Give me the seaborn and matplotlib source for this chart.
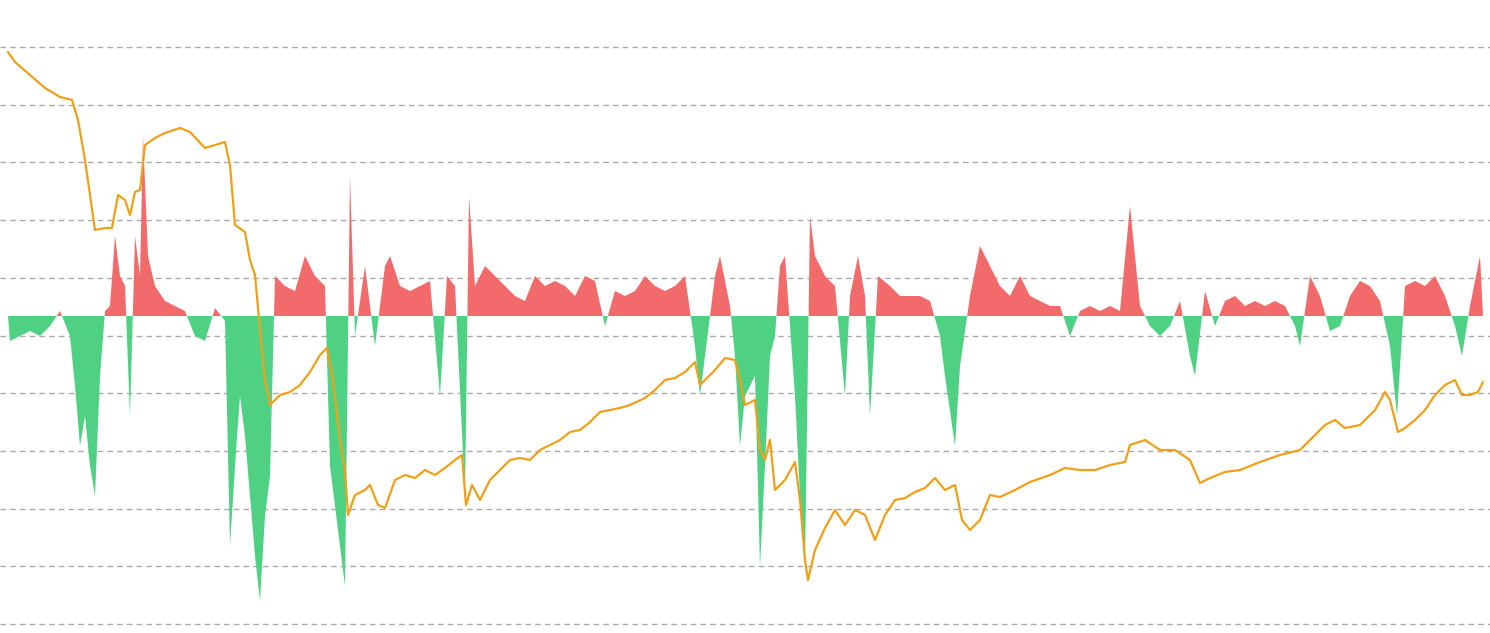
import matplotlib
matplotlib.use("Agg")
import matplotlib.pyplot as plt
import seaborn as sns
import numpy as np
import pandas as pd

# line series (position, level)
line_x = [8,15,30,45,60,72,78,85,90,95,105,112,118,125,130,135,140,145,155,165,180,190,205,215,225,230,235,245,250,255,260,265,270,280,290,300,310,320,327,333,340,345,348,355,365,370,378,385,395,405,415,425,435,445,455,462,466,472,480,490,500,510,520,530,540,550,560,570,580,590,600,610,620,630,645,655,665,675,685,695,700,705,715,725,735,740,745,755,760,765,770,775,785,795,800,805,808,815,825,835,845,855,865,875,885,895,905,915,925,935,945,955,962,970,980,990,1000,1015,1030,1050,1065,1080,1095,1110,1125,1130,1145,1160,1175,1190,1200,1210,1225,1240,1260,1280,1300,1310,1325,1335,1345,1360,1375,1385,1390,1398,1405,1415,1425,1435,1445,1455,1462,1470,1478,1483]
line_px = [52,62,75,88,97,100,120,160,195,230,228,228,195,200,215,192,190,145,138,133,128,132,148,145,142,165,225,232,260,275,330,380,405,395,392,385,372,355,348,380,440,470,515,495,490,485,505,508,480,475,478,470,475,468,460,455,505,485,500,480,470,460,458,460,450,445,440,432,430,422,412,410,408,405,398,390,380,378,372,362,385,380,370,358,360,380,405,400,450,460,440,490,480,462,500,560,580,550,528,510,525,510,515,540,515,500,498,492,488,478,490,485,520,530,520,495,497,490,482,475,468,470,470,465,462,445,440,450,450,460,483,478,472,470,462,455,450,440,425,420,428,425,410,392,400,432,428,420,410,395,385,380,395,395,392,382]

# bar series (position, signed magnitude)
bar_x = [10,20,30,40,50,60,70,75,80,85,90,95,100,105,110,115,120,125,130,135,140,143,148,155,165,175,185,195,205,215,225,230,235,240,245,250,255,260,265,270,275,285,295,305,315,325,330,340,345,350,355,365,375,385,390,400,410,420,430,440,447,455,465,469,475,485,495,505,515,525,535,545,555,565,575,585,595,605,615,625,635,645,655,665,675,685,695,700,715,720,730,735,740,745,755,760,765,770,775,780,785,795,800,805,810,815,825,835,845,850,858,865,870,878,890,900,910,920,930,940,945,955,960,970,980,990,1000,1010,1020,1030,1040,1050,1060,1070,1080,1090,1100,1110,1120,1130,1140,1150,1160,1170,1180,1190,1195,1205,1215,1225,1235,1245,1255,1265,1275,1285,1295,1300,1310,1320,1330,1340,1350,1360,1370,1380,1390,1397,1405,1415,1425,1435,1445,1455,1462,1470,1480]
bar_v = [-25,-20,-15,-20,-10,5,-20,-70,-130,-100,-150,-180,-60,5,10,80,40,30,-100,80,40,180,60,30,15,10,5,-20,-25,8,-5,-230,-150,-80,-120,-180,-240,-285,-200,-160,40,30,25,60,40,30,-150,-230,-270,140,-20,50,-30,50,60,30,25,30,35,-80,40,30,-180,120,30,50,40,30,20,15,40,30,35,30,20,40,35,-10,25,20,25,40,30,25,30,40,-30,-80,40,60,10,-40,-130,-80,-60,-250,-150,-40,-20,50,60,-80,-180,-250,100,60,40,30,-80,20,60,20,-100,40,30,20,20,20,15,-20,-60,-130,-50,20,70,50,30,20,40,20,15,10,10,-20,5,10,5,10,5,110,10,-10,-20,-10,15,-40,-60,25,-10,15,20,10,15,10,15,10,-10,-30,40,20,-15,-10,20,35,30,15,-30,-100,30,35,30,40,20,-10,-40,10,60]

H = 633
sns.set_style("white")
fig = plt.figure(figsize=(14.9, 6.33), dpi=100)
ax = fig.add_axes([0, 0, 1, 1])
ax.set_xlim(0, 1490)
ax.set_ylim(0, H)

for gy in [47,105,162,220,278,336,393,451,509,566,624]:
    ax.axhline(H - gy, color="#aaaaaa", ls=(0, (4, 3)), lw=1, zorder=0)

base = H - 316
bx = np.array(bar_x, float)
bv = np.array(bar_v, float)
xs = np.concatenate([[8], bx, [1483]])
vs = np.concatenate([[0], bv, [0]])
ax.fill_between(xs, base, base + vs, where=vs >= 0, interpolate=True, color="#f26b6b", lw=0, zorder=2)
ax.fill_between(xs, base, base + vs, where=vs <= 0, interpolate=True, color="#4fd183", lw=0, zorder=2)

df = pd.DataFrame({"x": line_x, "y": H - np.array(line_px)})
sns.lineplot(data=df, x="x", y="y", ax=ax, color="#f0a018", lw=1.6, zorder=3, sort=False)
ax.set_axis_off()
fig.savefig("out.png", dpi=100)
